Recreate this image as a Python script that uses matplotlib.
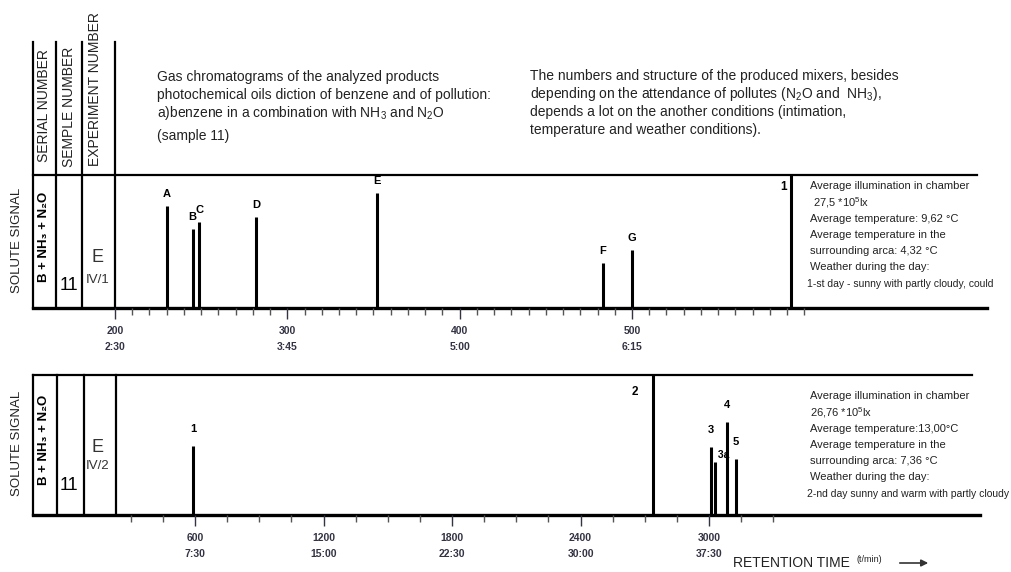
import matplotlib.pyplot as plt
from matplotlib.ticker import FixedLocator

plt.rcParams['font.family'] = ['Liberation Sans', 'DejaVu Sans']
plt.rcParams['mathtext.default'] = 'regular'

# Datos de los cromatogramas
top_labels = ['A', 'B', 'C', 'D', 'E', 'F', 'G']
top_rt = [230, 245, 249, 282, 352, 483, 500]
top_signal = [102, 79, 86, 91, 115, 45, 58]
top_divider = 592

bottom_labels = ['1', '3', '3a', '4', '5']
bottom_rt = [590, 3008, 3027, 3083, 3126]
bottom_signal = [69, 68, 53, 93, 56]
bottom_divider = 2738

top_ticks = [200, 300, 400, 500]
top_ticklabels = ['200\n2:30', '300\n3:45', '400\n5:00', '500\n6:15']
bottom_ticks = [600, 1200, 1800, 2400, 3000]
bottom_ticklabels = ['600\n7:30', '1200\n15:00', '1800\n22:30', '2400\n30:00', '3000\n37:30']

top_notes = ['Average illumination in chamber', ' 27,5 *10$^5$lx', 'Average temperature: 9,62 °C',
             'Average temperature in the', 'surrounding arca: 4,32 °C', 'Weather during the day:']
top_weather = '1-st day - sunny with partly cloudy, could'
bottom_notes = ['Average illumination in chamber', '26,76 *10$^5$lx', 'Average temperature:13,00°C',
                'Average temperature in the', 'surrounding arca: 7,36 °C', 'Weather during the day:']
bottom_weather = '2-nd day sunny and warm with partly cloudy'

W, H = 1012, 572
NARROW = ['Liberation Sans Narrow', 'Liberation Sans', 'DejaVu Sans']
TXT = '#222222'


def caja(l, t, r, b):
    return [l / W, 1 - b / H, (r - l) / W, (b - t) / H]


fig = plt.figure(figsize=(W / 100, H / 100), dpi=100)

# Capa de fondo en pixeles para el marco y los textos
ov = fig.add_axes([0, 0, 1, 1])
ov.set_xlim(0, W)
ov.set_ylim(H, 0)
ov.axis('off')

# Marco superior
for x in [33, 56, 82, 115]:
    ov.plot([x, x], [42, 308], color='black', lw=1.6)
ov.plot([33, 977], [175, 175], color='black', lw=1.6)
ov.plot([33, 987], [308, 308], color='black', lw=2.4)

# Marco inferior
for x in [33, 57, 84, 116]:
    ov.plot([x, x], [375, 515], color='black', lw=1.6)
ov.plot([33, 972], [375, 375], color='black', lw=1.6)
ov.plot([33, 980], [515, 515], color='black', lw=2.4)

# Encabezados verticales
ov.text(44, 106, 'SERIAL NUMBER', rotation=90, ha='center', va='center', fontsize=10, color=TXT)
ov.text(69, 107, 'SEMPLE NUMBER', rotation=90, ha='center', va='center', fontsize=10, color=TXT)
ov.text(95, 89, 'EXPERIMENT NUMBER', rotation=90, ha='center', va='center', fontsize=10, color=TXT)

for yc, exp, y11, ye, yexp in [(240, 'IV/1', 285, 257, 280), (443, 'IV/2', 486, 448, 466)]:
    ov.text(17, yc, 'SOLUTE SIGNAL', rotation=90, ha='center', va='center', fontsize=9.5, color=TXT)
    ov.text(44, yc - 3, 'B + NH₃ + N₂O', rotation=90, ha='center', va='center', fontsize=9.5,
            fontweight='bold', color='black')
    ov.text(69, y11, '11', ha='center', va='center', fontsize=13, color='black')
    ov.text(98, ye, 'E', ha='center', va='center', fontsize=13, color='#333333')
    ov.text(98, yexp, exp, ha='center', va='center', fontsize=9.5, family=NARROW, color='#333333')

# Textos de cabecera
lineas_izq = ['Gas chromatograms of the analyzed products',
              'photochemical oils diction of benzene and of pollution:',
              'a)benzene in a combination with NH$_3$ and N$_2$O',
              '(sample 11)']
for y, t in zip([77, 95, 113, 136], lineas_izq):
    ov.text(157, y, t, ha='left', va='center', fontsize=10, color=TXT)

lineas_der = ['The numbers and structure of the produced mixers, besides',
              'depending on the attendance of pollutes (N$_2$O and  NH$_3$),',
              'depends a lot on the another conditions (intimation,',
              'temperature and weather conditions).']
for y, t in zip([76, 94, 112, 130], lineas_der):
    ov.text(530, y, t, ha='left', va='center', fontsize=10, color=TXT)

# Condiciones de cada dia
for y0, notas, clima in [(186, top_notes, top_weather), (396, bottom_notes, bottom_weather)]:
    for i, t in enumerate(notas):
        ov.text(810, y0 + i * 16.3, t, ha='left', va='center', fontsize=8, color=TXT)
    ov.text(807, y0 + 6 * 16.3, clima, ha='left', va='center', fontsize=7.5,
            family=NARROW, color=TXT)

# Eje de tiempo de retencion
ov.text(791, 563, 'RETENTION TIME', ha='center', va='center', fontsize=10, color=TXT)
ov.text(869, 560, '(t/min)', ha='center', va='center', fontsize=6.5, color=TXT)
ov.annotate('', xy=(931, 563), xytext=(897, 563),
            arrowprops=dict(arrowstyle='-|>', color='#333333', lw=1.2, mutation_scale=10))


def panel(pos, xlim, ymax, rt, signal, labels, divider, div_label, ticks, ticklabels,
          minor, div_lx, div_ly, gap):
    ax = fig.add_axes(pos, facecolor='none')
    ax.set_xlim(*xlim)
    ax.set_ylim(0, ymax)
    for s in ax.spines.values():
        s.set_visible(False)
    ax.vlines(rt, 0, signal, color='black', lw=2.2)
    ax.axvline(divider, color='black', lw=2.2)
    ax.text(div_lx, div_ly, div_label, ha='center', va='center', fontsize=8.5, fontweight='bold')
    for x, h, lab in zip(rt, signal, labels):
        if lab == '3a':
            ax.text(x, h + 7, ' ' + lab, ha='left', va='center', fontsize=7.5,
                    fontweight='bold', family=NARROW)
        else:
            ax.text(x, h + gap, lab, ha='center', va='center', fontsize=8, fontweight='bold')
    ax.xaxis.set_major_locator(FixedLocator(ticks))
    ax.xaxis.set_minor_locator(FixedLocator(minor))
    ax.set_xticklabels(ticklabels)
    ax.tick_params(axis='x', which='major', length=8, width=1, direction='out', pad=5,
                   colors='#333344', labelsize=7.5)
    ax.tick_params(axis='x', which='minor', length=5, width=1, direction='out', colors='#555555')
    for lbl in ax.get_xticklabels():
        lbl.set_fontweight('bold')
        lbl.set_family(NARROW)
        lbl.set_linespacing(1.7)
    ax.set_yticks([])
    return ax


ax1 = panel(caja(115, 175, 987, 308), (200, 706), 133, top_rt, top_signal, top_labels,
            top_divider, '1', top_ticks, top_ticklabels, list(range(200, 601, 10)), 588, 121, 12)
ax2 = panel(caja(116, 375, 980, 515), (231, 4265), 140, bottom_rt, bottom_signal, bottom_labels,
            bottom_divider, '2', bottom_ticks, bottom_ticklabels, list(range(300, 3301, 150)),
            2655, 123, 17)

plt.savefig('out.png', dpi=100)
